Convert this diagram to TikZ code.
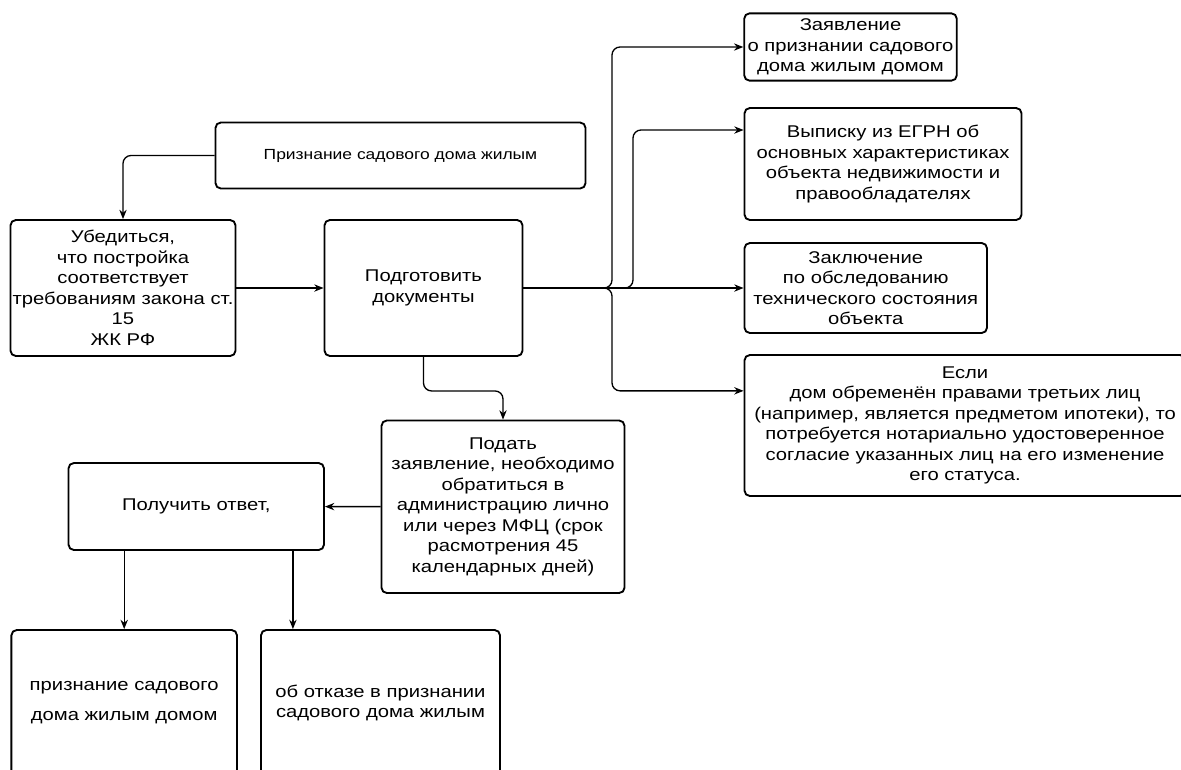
\documentclass[tikz,border=0pt]{standalone}
\usepackage{fontspec}
\setmainfont{Liberation Sans}[FakeStretch=1.19]
\usetikzlibrary{arrows.meta}
\usetikzlibrary{positioning}

\begin{document}
\begin{tikzpicture}[->,>={Stealth[length=7pt,width=5.5pt]},x=0.75pt,y=-0.75pt,
			line width=1pt,rounded corners=6pt,
			font=\fontsize{12.75}{15.4}\selectfont]
			\tikzstyle{block}=[draw,line width=1.4pt,rounded corners=4pt,align=center,inner sep=0pt]
			\useasboundingbox (0,0) rectangle (1181,769);
			
			\node[block,minimum width=277.5pt,minimum height=49.5pt,font=\fontsize{11}{13}\selectfont] (house) at (400.5,155.5) {Признание садового дома жилым};
			\node[block,minimum width=168.75pt,minimum height=102pt] (check) at (123,288) {Убедиться,\\ что постройка\\ соответствует\\ требованиям закона ст.\\ 15\\ ЖК РФ};
			\node[block,minimum width=148.5pt,minimum height=102pt] (docs) at (423.5,288) {Подготовить\\ документы};
			\node[block,minimum width=159.4pt,minimum height=50.5pt] (claim) at (850.5,47) {Заявление\\ о признании садового\\ дома жилым домом};
			\node[block,minimum width=207.75pt,minimum height=84pt] (egrn) at (883,164) {Выписку из ЕГРН об\\ основных характеристиках\\ объекта недвижимости и\\ правообладателях};
			\node[block,minimum width=181.9pt,minimum height=67.5pt] (expert) at (865.75,288) {Заключение\\ по обследованию\\ технического состояния\\ объекта};
			\node[block,minimum width=330.75pt,minimum height=105.75pt] (third) at (965,425.5) {Если\\ дом обременён правами третьих лиц\\ (например, является предметом ипотеки), то\\ потребуется нотариально удостоверенное\\ согласие указанных лиц на его изменение\\ его статуса.};
			\node[block,minimum width=182.25pt,minimum height=129.4pt] (submit) at (503,506.75) {Подать\\ заявление, необходимо\\ обратиться в\\ администрацию лично\\ или через МФЦ (срок\\ расмотрения 45\\ календарных дней)};
			\node[block,minimum width=191.6pt,minimum height=65.25pt] (reply) at (196.25,506.5) {Получить ответ,};
			\node[block,minimum width=169.2pt,minimum height=109.5pt,font=\fontsize{12.75}{22.5}\selectfont] (yes) at (124.2,703) {признание садового\\ дома жилым домом};
			\node[block,minimum width=179.25pt,minimum height=109.5pt] (no) at (380.5,703) {об отказе в признании\\ садового дома жилым};
			
			\coordinate (fork) at (612,288);
			\coordinate (fork2) at (633,288);
			
			\draw (house.west) -| (check.north);
			\draw (check) -- (docs);
			\draw (docs.east) -- (fork) |- (claim.west);
			\draw (docs.east) -- (fork2) |- ([yshift=25.5pt]egrn.west);
			\draw (docs) -- (expert);
			\draw (docs.east) -- (fork) |- ([yshift=26pt]third.west);
			\draw (docs.south) -- ++(0,34) -| (submit.north);
			\draw (submit) -- (reply);
			\draw (reply.south -| yes.north) -- (yes.north);
			\draw ([xshift=72.5pt]reply.south) -- ([xshift=72.5pt]reply.south |- no.north);
\end{tikzpicture}
\end{document}
